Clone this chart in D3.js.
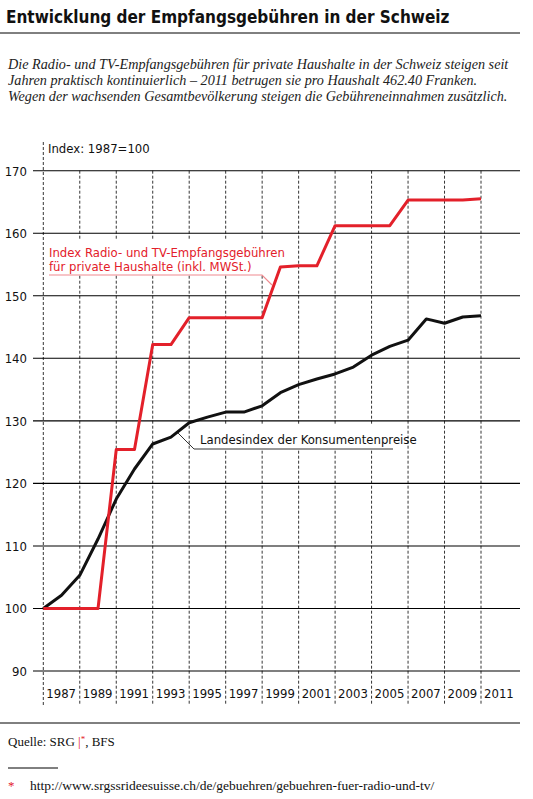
<!DOCTYPE html>
<html><head><meta charset="utf-8">
<script src="https://cdn.jsdelivr.net/npm/d3@7"></script>
<style>
body{margin:0;background:#fff}
.c{font-family:"Liberation Sans Narrow","DejaVu Sans Condensed",sans-serif}
.s{font-family:"Liberation Serif",serif}
</style></head><body>
<svg id="chart" width="533" height="799"></svg>
<script>
const years = d3.range(1987, 2012);
const gebuehren = [100,100,100,100,125.4,125.4,142.2,142.2,146.5,146.5,146.5,146.5,146.5,154.6,154.8,154.8,161.2,161.2,161.2,161.2,165.3,165.3,165.3,165.3,165.5];
const konsum = [100,102.1,105.3,111.1,117.5,122.3,126.3,127.4,129.7,130.6,131.4,131.4,132.4,134.5,135.8,136.7,137.5,138.6,140.5,141.9,142.9,146.3,145.6,146.6,146.8];
const yTicks = [90,100,110,120,130,140,150,160,170];
const xTicks = d3.range(1987, 2012, 2);

const svg = d3.select("#chart");
const x = d3.scaleLinear([1987, 2011], [43.3, 481]);
const y = d3.scaleLinear([90, 170], [671, 170.7]);

// header
svg.append("text").attr("class","c").attr("x",6).attr("y",23)
  .style("font-size","17px").style("font-weight","bold").attr("fill","#111")
  .text("Entwicklung der Empfangsgebühren in der Schweiz");
svg.append("line").attr("x1",0).attr("x2",520).attr("y1",33).attr("y2",33).attr("stroke","#000");
const sub = ["Die Radio- und TV-Empfangsgebühren für private Haushalte in der Schweiz steigen seit",
  "Jahren praktisch kontinuierlich – 2011 betrugen sie pro Haushalt 462.40 Franken.",
  "Wegen der wachsenden Gesamtbevölkerung steigen die Gebühreneinnahmen zusätzlich."];
svg.append("g").selectAll("text").data(sub).join("text").attr("class","s")
  .attr("x",8).attr("y",(d,i)=>69+i*16).style("font-size","14.2px").style("font-style","italic")
  .attr("fill","#222").text(d=>d);

// grid
svg.append("g").selectAll("line").data(yTicks).join("line")
  .attr("x1",33).attr("x2",520).attr("y1",d=>y(d)).attr("y2",d=>y(d)).attr("stroke","#000").attr("stroke-width",1.1);
svg.append("g").selectAll("line").data(xTicks).join("line")
  .attr("x1",d=>x(d)).attr("x2",d=>x(d)).attr("y1",d=>d===1987?142:y(170)).attr("y2",705)
  .attr("stroke","#000").attr("stroke-width",0.8).attr("stroke-dasharray","3,2");
svg.append("g").selectAll("text").data(yTicks).join("text").attr("class","c")
  .attr("x",27).attr("y",d=>y(d)+5).attr("text-anchor","end").style("font-size","13px").attr("fill","#111").text(d=>d);
svg.append("g").selectAll("text").data(xTicks).join("text").attr("class","c")
  .attr("x",d=>x(d)+3).attr("y",698).style("font-size","13px").attr("fill","#111").text(d=>d);
svg.append("text").attr("class","c").attr("x",48).attr("y",153).style("font-size","13px").attr("fill","#111").text("Index: 1987=100");

// annotation backgrounds + text
svg.append("rect").attr("x",46).attr("y",240).attr("width",222).attr("height",35).attr("fill","#fff");
svg.append("rect").attr("x",196).attr("y",425).attr("width",200).attr("height",24).attr("fill","#fff");

const line = d3.line().x((d,i)=>x(years[i])).y(d=>y(d));
svg.append("path").attr("d",line(konsum)).attr("fill","none").attr("stroke","#111").attr("stroke-width",3).attr("stroke-linejoin","round");
svg.append("path").attr("d",line(gebuehren)).attr("fill","none").attr("stroke","#e3202a").attr("stroke-width",3).attr("stroke-linejoin","round");

svg.append("text").attr("class","c").attr("x",49).attr("y",257).style("font-size","13px").attr("fill","#e3202a").text("Index Radio- und TV-Empfangsgebühren");
svg.append("text").attr("class","c").attr("x",49).attr("y",271).style("font-size","13px").attr("fill","#e3202a").text("für private Haushalte (inkl. MWSt.)");
svg.append("path").attr("d","M49,275H262L272,285").attr("fill","none").attr("stroke","#f08a8f").attr("stroke-width",1.2);
svg.append("text").attr("class","c").attr("x",200).attr("y",444).style("font-size","13px").attr("fill","#111").text("Landesindex der Konsumentenpreise");
svg.append("path").attr("d","M178,433L194,449H393").attr("fill","none").attr("stroke","#333").attr("stroke-width",1);

// footer
svg.append("line").attr("x1",0).attr("x2",520).attr("y1",723).attr("y2",723).attr("stroke","#000");
svg.append("text").attr("class","s").attr("x",8).attr("y",746).style("font-size","13px").attr("fill","#111")
  .html('Quelle: SRG <tspan fill="#e3202a">|</tspan><tspan fill="#e3202a" dy="-4" font-size="9">*</tspan><tspan dy="4">, BFS</tspan>');
svg.append("line").attr("x1",8).attr("x2",58).attr("y1",768).attr("y2",768).attr("stroke","#000");
svg.append("text").attr("class","s").attr("x",8).attr("y",790).style("font-size","13px").attr("fill","#e3202a").text("*");
svg.append("text").attr("class","s").attr("x",30).attr("y",790).style("font-size","13.5px").attr("fill","#111")
  .text("http://www.srgssrideesuisse.ch/de/gebuehren/gebuehren-fuer-radio-und-tv/");
</script></body></html>
